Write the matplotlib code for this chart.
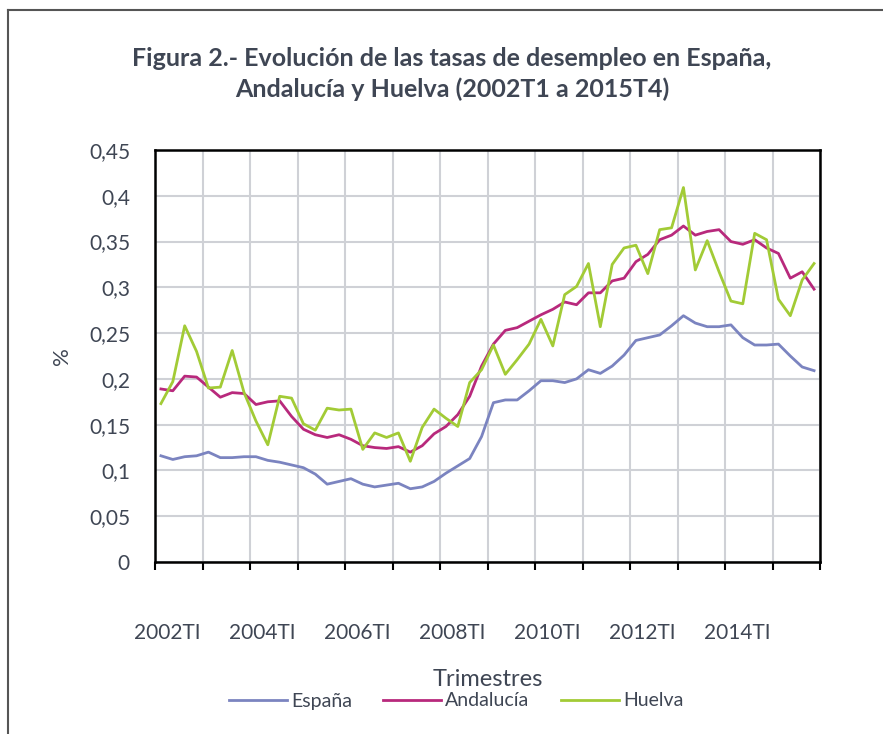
import numpy as np
import matplotlib
matplotlib.use('Agg')
import matplotlib.pyplot as plt
import matplotlib.transforms as mtransforms
from matplotlib.lines import Line2D
from matplotlib.ticker import FuncFormatter

# data (tasas de desempleo, 2002T1 - 2015T4)
years = list(range(2002, 2016))
espana = [0.116, 0.112, 0.115, 0.116, 0.120, 0.114, 0.114, 0.115, 0.115, 0.111,
          0.109, 0.106, 0.103, 0.096, 0.085, 0.088, 0.091, 0.085, 0.082, 0.084,
          0.086, 0.080, 0.082, 0.088, 0.097, 0.105, 0.113, 0.137, 0.174, 0.177,
          0.177, 0.187, 0.198, 0.198, 0.196, 0.200, 0.210, 0.206, 0.214, 0.226,
          0.242, 0.245, 0.248, 0.258, 0.269, 0.261, 0.257, 0.257, 0.259, 0.245,
          0.237, 0.237, 0.238, 0.225, 0.213, 0.209]
andalucia = [0.189, 0.187, 0.203, 0.202, 0.191, 0.180, 0.185, 0.184, 0.172, 0.175,
             0.176, 0.159, 0.145, 0.139, 0.136, 0.139, 0.134, 0.127, 0.125, 0.124,
             0.126, 0.120, 0.127, 0.140, 0.148, 0.161, 0.181, 0.214, 0.238, 0.253,
             0.256, 0.263, 0.270, 0.276, 0.284, 0.281, 0.294, 0.294, 0.307, 0.310,
             0.328, 0.336, 0.352, 0.357, 0.367, 0.357, 0.361, 0.363, 0.350, 0.347,
             0.352, 0.343, 0.337, 0.310, 0.317, 0.298]
huelva = [0.173, 0.197, 0.258, 0.230, 0.190, 0.191, 0.231, 0.185, 0.154, 0.128,
          0.181, 0.179, 0.151, 0.144, 0.168, 0.166, 0.167, 0.123, 0.141, 0.136,
          0.141, 0.110, 0.147, 0.167, 0.157, 0.148, 0.196, 0.210, 0.237, 0.205,
          0.221, 0.238, 0.265, 0.236, 0.292, 0.301, 0.326, 0.257, 0.325, 0.343,
          0.346, 0.315, 0.363, 0.365, 0.409, 0.319, 0.351, 0.317, 0.285, 0.282,
          0.359, 0.352, 0.287, 0.269, 0.308, 0.326]
quarters = [f'{y}T{q}' for y in years for q in ('I', 'II', 'III', 'IV')]
yTicks = [0, 0.05, 0.1, 0.15, 0.2, 0.25, 0.3, 0.35, 0.4, 0.45]

textColor = '#3f4654'
plt.rcParams['font.family'] = ['Lato', 'DejaVu Sans']

fig = plt.figure(figsize=(8.83, 7.34), dpi=100)
axs = fig.add_axes([155/883, 172/734, 665/883, 412/734])

xPos = np.arange(len(quarters))
axs.plot(xPos, espana, color='#7b84c0', lw=2.0, label='España')
axs.plot(xPos, andalucia, color='#b8297c', lw=2.0, label='Andalucía')
axs.plot(xPos, huelva, color='#a2cb36', lw=2.0, label='Huelva')

axs.set_xlim(-0.5, len(quarters) - 0.5)
axs.set_ylim(0, 0.45)
axs.set_yticks(yTicks)
axs.yaxis.set_major_formatter(FuncFormatter(lambda v, p: ('%g' % round(v, 2)).replace('.', ',')))

# yearly gridlines/ticks between categories, labels every two years
axs.set_xticks(np.arange(-0.5, len(quarters), 4), minor=True)
axs.set_xticks(xPos[::8])
axs.set_xticklabels([q for q in quarters[::8]])
axs.grid(which='minor', axis='x', color='#cfd1d6', lw=1.5)
axs.grid(which='major', axis='y', color='#cfd1d6', lw=1.5)
axs.set_axisbelow(True)
axs.tick_params(axis='x', which='minor', length=6, width=1.5, color='black', direction='out')
axs.tick_params(axis='x', which='major', length=0, pad=44, labelsize=15, labelcolor=textColor)
axs.tick_params(axis='y', length=0, pad=18, labelsize=15, labelcolor=textColor)
offset = mtransforms.ScaledTranslation(6/100, 0, fig.dpi_scale_trans)
for lbl in axs.get_xticklabels():
    lbl.set_transform(lbl.get_transform() + offset)
for sp in axs.spines.values():
    sp.set_color('black')
    sp.set_linewidth(1.8)

axs.set_ylabel('%', fontsize=16, color=textColor, labelpad=12)
fig.text(488/883, 1 - 680/734, 'Trimestres', fontsize=17, color=textColor, ha='center', va='center')
fig.text(452/883, 1 - 74/734,
         'Figura 2.- Evolución de las tasas de desempleo en España,\nAndalucía y Huelva (2002T1 a 2015T4)',
         fontsize=18, fontweight='bold', color=textColor, ha='center', va='center', linespacing=1.35)
fig.legend(loc='center', bbox_to_anchor=(456/883, 1 - 701/734), ncol=3, frameon=False,
           fontsize=14, labelcolor=textColor, handlelength=3.0, handletextpad=0.2, columnspacing=1.6)

# outer chart border (left and top visible)
fig.add_artist(Line2D([8/883, 8/883], [0, 1 - 10/734], color='#555555', lw=1.5))
fig.add_artist(Line2D([8/883, 1], [1 - 10/734, 1 - 10/734], color='#555555', lw=1.5))

fig.savefig('out.png', dpi=100)
